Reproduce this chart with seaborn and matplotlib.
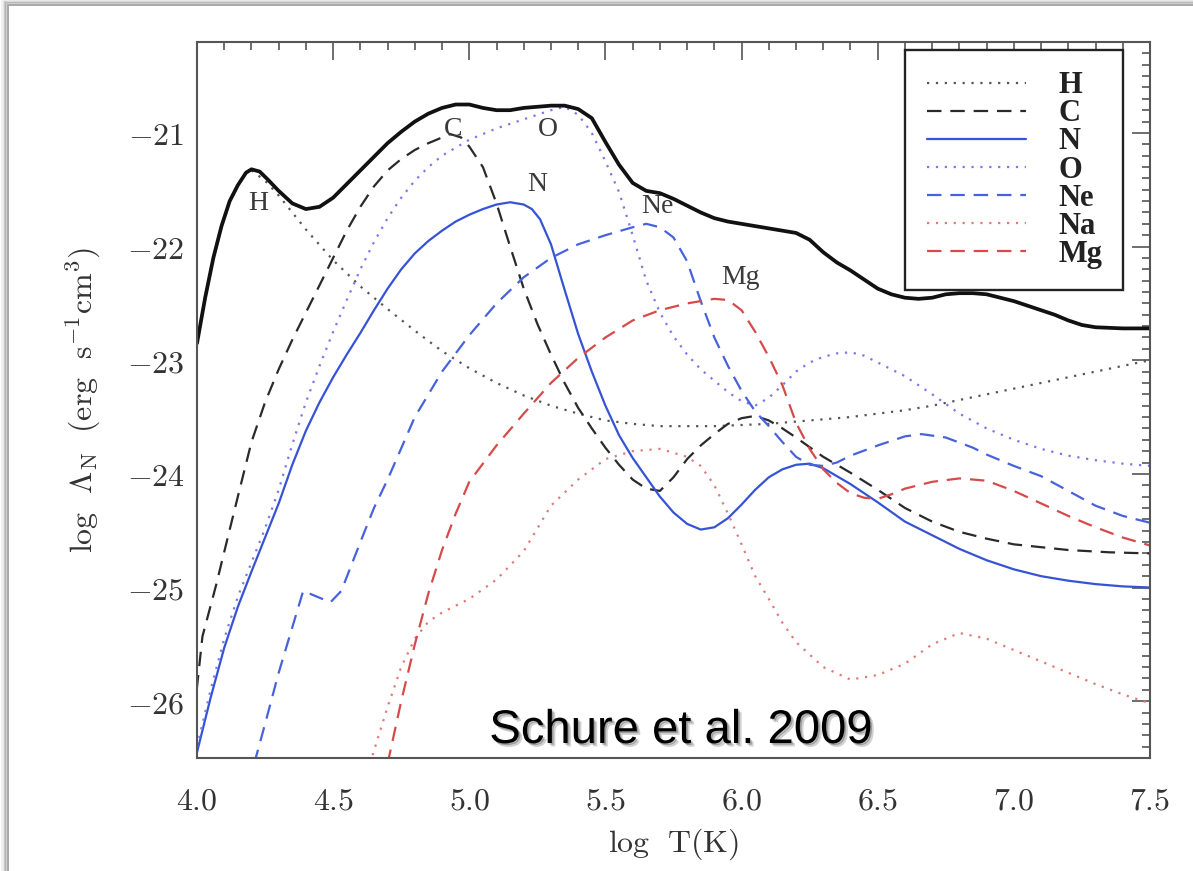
import numpy as np
import pandas as pd
import matplotlib
matplotlib.use("Agg")
import matplotlib.pyplot as plt
import matplotlib.patheffects as pe
from matplotlib.patches import Rectangle
from matplotlib.ticker import MultipleLocator, FixedLocator, FixedFormatter
import seaborn as sns

# ---------------------------------------------------------------------------
# Cooling rates per element, log Lambda_N (erg s^-1 cm^3) vs log T (K)
# ---------------------------------------------------------------------------
total_T = [4.0, 4.03, 4.06, 4.09, 4.12, 4.15, 4.18, 4.2, 4.23, 4.26, 4.3, 4.35,
           4.4, 4.45, 4.5, 4.55, 4.6, 4.65, 4.7, 4.75, 4.8, 4.85, 4.9, 4.95,
           5.0, 5.05, 5.1, 5.15, 5.2, 5.25, 5.3, 5.35, 5.4, 5.45, 5.5, 5.55,
           5.6, 5.65, 5.7, 5.75, 5.8, 5.85, 5.9, 5.95, 6.0, 6.05, 6.1, 6.15,
           6.2, 6.25, 6.3, 6.35, 6.4, 6.45, 6.5, 6.55, 6.6, 6.65, 6.7, 6.75,
           6.8, 6.85, 6.9, 6.95, 7.0, 7.05, 7.1, 7.15, 7.2, 7.25, 7.3, 7.4, 7.5]
total_L = [-22.85, -22.45, -22.10, -21.82, -21.60, -21.46, -21.35, -21.32, -21.34,
           -21.41, -21.51, -21.62, -21.67, -21.65, -21.57, -21.45, -21.33, -21.21,
           -21.09, -20.99, -20.90, -20.83, -20.78, -20.75, -20.75, -20.78, -20.80,
           -20.80, -20.78, -20.77, -20.76, -20.76, -20.79, -20.87, -21.08, -21.28,
           -21.44, -21.51, -21.53, -21.58, -21.64, -21.70, -21.75, -21.78, -21.80,
           -21.82, -21.84, -21.86, -21.88, -21.94, -22.05, -22.14, -22.21, -22.29,
           -22.37, -22.42, -22.45, -22.46, -22.45, -22.42, -22.41, -22.41, -22.42,
           -22.45, -22.48, -22.52, -22.56, -22.60, -22.65, -22.69, -22.71, -22.72,
           -22.72]

H_T = [4.2, 4.25, 4.3, 4.35, 4.4, 4.5, 4.6, 4.7, 4.8, 4.9, 5.0, 5.1, 5.2, 5.3,
       5.4, 5.5, 5.6, 5.7, 5.8, 5.9, 6.0, 6.1, 6.2, 6.3, 6.4, 6.5, 6.6, 6.7,
       6.8, 6.9, 7.0, 7.1, 7.2, 7.3, 7.4, 7.5]
H_L = [-21.33, -21.42, -21.55, -21.70, -21.85, -22.12, -22.35, -22.55, -22.74,
       -22.92, -23.07, -23.20, -23.31, -23.40, -23.47, -23.53, -23.56, -23.58,
       -23.58, -23.58, -23.57, -23.56, -23.54, -23.52, -23.50, -23.47, -23.44,
       -23.40, -23.35, -23.30, -23.25, -23.20, -23.15, -23.10, -23.05, -23.00]

C_T = [3.99, 4.02, 4.07, 4.115, 4.15, 4.2, 4.25, 4.3, 4.35, 4.4, 4.45, 4.5, 4.55,
       4.6, 4.65, 4.7, 4.75, 4.8, 4.85, 4.9, 4.93, 4.97, 5.0, 5.05, 5.1, 5.15,
       5.2, 5.25, 5.3, 5.35, 5.4, 5.45, 5.5, 5.55, 5.6, 5.65, 5.7, 5.75, 5.8,
       5.85, 5.9, 5.95, 6.0, 6.05, 6.1, 6.15, 6.2, 6.3, 6.4, 6.5, 6.6, 6.7, 6.8,
       6.9, 7.0, 7.2, 7.35, 7.5]
C_L = [-26.10, -25.43, -24.98, -24.54, -24.20, -23.72, -23.37, -23.08, -22.82,
       -22.58, -22.34, -22.10, -21.86, -21.65, -21.47, -21.33, -21.23, -21.15,
       -21.09, -21.04, -21.01, -21.04, -21.12, -21.30, -21.62, -22.00, -22.37,
       -22.68, -22.95, -23.20, -23.42, -23.60, -23.77, -23.92, -24.05, -24.13,
       -24.15, -24.03, -23.87, -23.75, -23.65, -23.56, -23.51, -23.49, -23.53,
       -23.60, -23.68, -23.85, -23.99, -24.14, -24.30, -24.42, -24.51, -24.57,
       -24.62, -24.67, -24.69, -24.70]

N_T = [4.0, 4.05, 4.1, 4.15, 4.2, 4.25, 4.3, 4.35, 4.4, 4.45, 4.5, 4.55, 4.6,
       4.65, 4.7, 4.75, 4.8, 4.85, 4.9, 4.95, 5.0, 5.05, 5.1, 5.15, 5.2, 5.23,
       5.26, 5.3, 5.35, 5.4, 5.45, 5.5, 5.55, 5.6, 5.65, 5.7, 5.75, 5.8, 5.85,
       5.9, 5.95, 6.0, 6.05, 6.1, 6.15, 6.2, 6.25, 6.3, 6.4, 6.5, 6.6, 6.7, 6.8,
       6.9, 7.0, 7.1, 7.2, 7.3, 7.4, 7.5]
N_L = [-26.45, -25.97, -25.53, -25.17, -24.86, -24.56, -24.26, -23.92, -23.62,
       -23.37, -23.15, -22.95, -22.76, -22.56, -22.37, -22.20, -22.06, -21.95,
       -21.86, -21.78, -21.72, -21.67, -21.63, -21.61, -21.63, -21.67, -21.76,
       -21.98, -22.38, -22.77, -23.10, -23.40, -23.66, -23.86, -24.03, -24.20,
       -24.34, -24.44, -24.49, -24.47, -24.39, -24.27, -24.14, -24.03, -23.96,
       -23.92, -23.91, -23.95, -24.09, -24.25, -24.42, -24.54, -24.66, -24.76,
       -24.84, -24.90, -24.94, -24.97, -24.99, -25.00]

O_T = [4.0, 4.05, 4.1, 4.15, 4.2, 4.25, 4.3, 4.35, 4.4, 4.45, 4.5, 4.55, 4.6,
       4.65, 4.7, 4.75, 4.8, 4.85, 4.9, 5.0, 5.1, 5.2, 5.3, 5.35, 5.4, 5.45,
       5.5, 5.55, 5.6, 5.65, 5.7, 5.75, 5.8, 5.85, 5.9, 5.95, 6.0, 6.05, 6.1,
       6.15, 6.2, 6.25, 6.3, 6.35, 6.4, 6.45, 6.5, 6.55, 6.6, 6.7, 6.8, 6.9,
       7.0, 7.1, 7.2, 7.3, 7.4, 7.5]
O_L = [-26.40, -25.90, -25.45, -25.08, -24.78, -24.48, -24.14, -23.74, -23.37,
       -23.05, -22.75, -22.47, -22.20, -21.96, -21.75, -21.57, -21.42, -21.30,
       -21.20, -21.06, -20.96, -20.88, -20.80, -20.77, -20.84, -21.00, -21.25,
       -21.52, -21.90, -22.30, -22.58, -22.79, -22.95, -23.08, -23.18, -23.28,
       -23.36, -23.40, -23.33, -23.22, -23.10, -23.02, -22.97, -22.94, -22.93,
       -22.96, -23.02, -23.08, -23.14, -23.30, -23.47, -23.60, -23.70, -23.78,
       -23.84, -23.88, -23.91, -23.93]

Ne_T = [4.21, 4.25, 4.3, 4.35, 4.39, 4.44, 4.49, 4.53, 4.6, 4.65, 4.7, 4.8, 4.9,
        5.0, 5.1, 5.2, 5.3, 5.4, 5.5, 5.6, 5.65, 5.7, 5.75, 5.8, 5.85, 5.9,
        5.95, 6.0, 6.05, 6.1, 6.15, 6.2, 6.25, 6.3, 6.35, 6.4, 6.5, 6.6, 6.66,
        6.75, 6.85, 6.9, 7.0, 7.1, 7.2, 7.3, 7.4, 7.5]
Ne_L = [-26.55, -26.20, -25.75, -25.35, -25.03, -25.08, -25.13, -25.03, -24.60,
        -24.30, -24.05, -23.50, -23.10, -22.78, -22.50, -22.27, -22.10, -21.98,
        -21.90, -21.83, -21.80, -21.83, -21.92, -22.13, -22.48, -22.80, -23.05,
        -23.27, -23.45, -23.58, -23.72, -23.85, -23.92, -23.93, -23.90, -23.84,
        -23.75, -23.67, -23.65, -23.68, -23.77, -23.83, -23.93, -24.02, -24.15,
        -24.28, -24.37, -24.43]

Na_T = [4.635, 4.7, 4.75, 4.8, 4.85, 4.9, 5.0, 5.1, 5.2, 5.3, 5.4, 5.5, 5.6,
        5.7, 5.8, 5.85, 5.9, 5.95, 6.0, 6.05, 6.1, 6.15, 6.2, 6.3, 6.4, 6.5,
        6.6, 6.7, 6.8, 6.9, 7.0, 7.1, 7.2, 7.3, 7.4, 7.5]
Na_L = [-26.55, -26.05, -25.70, -25.45, -25.30, -25.22, -25.10, -24.93, -24.68,
        -24.28, -24.05, -23.87, -23.80, -23.78, -23.85, -23.93, -24.10, -24.35,
        -24.62, -24.90, -25.10, -25.31, -25.48, -25.70, -25.81, -25.77, -25.67,
        -25.50, -25.40, -25.45, -25.55, -25.65, -25.75, -25.85, -25.94, -26.02]

Mg_T = [4.70, 4.75, 4.8, 4.85, 4.9, 4.95, 5.0, 5.1, 5.2, 5.3, 5.4, 5.5, 5.6,
        5.7, 5.8, 5.85, 5.9, 5.95, 6.0, 6.05, 6.1, 6.15, 6.2, 6.25, 6.3, 6.35,
        6.4, 6.45, 6.5, 6.55, 6.6, 6.7, 6.8, 6.9, 7.0, 7.1, 7.2, 7.3, 7.4, 7.5]
Mg_L = [-26.55, -26.00, -25.50, -25.05, -24.67, -24.35, -24.07, -23.75, -23.47,
        -23.20, -22.98, -22.80, -22.65, -22.56, -22.50, -22.48, -22.46, -22.47,
        -22.56, -22.75, -22.97, -23.22, -23.55, -23.78, -23.96, -24.08, -24.17,
        -24.21, -24.22, -24.18, -24.13, -24.07, -24.04, -24.06, -24.15, -24.26,
        -24.37, -24.47, -24.56, -24.63]

elements = ["H", "C", "N", "O", "Ne", "Na", "Mg"]
temps = [H_T, C_T, N_T, O_T, Ne_T, Na_T, Mg_T]
rates = [H_L, C_L, N_L, O_L, Ne_L, Na_L, Mg_L]

# curve annotations (element, log T, log Lambda)
tag_names = ["H", "C", "O", "N", "Ne", "Mg"]
tag_T = [4.225, 4.94, 5.29, 5.25, 5.69, 5.995]
tag_L = [-21.62, -20.97, -20.97, -21.45, -21.65, -22.27]

x_ticks = [4.0, 4.5, 5.0, 5.5, 6.0, 6.5, 7.0, 7.5]
y_ticks = [-26, -25, -24, -23, -22, -21]

# ---------------------------------------------------------------------------
sns.set_theme(style="white")
plt.rcParams["mathtext.fontset"] = "cm"
plt.rcParams["font.family"] = ["DejaVu Serif"]

DOT = (0, (1, 3))
DASH = (0, (6.5, 4))
styles = {
    "H":  dict(color="#555555", linestyle=DOT),
    "C":  dict(color="#2a2a2a", linestyle=DASH),
    "N":  dict(color="#3653d6", linestyle="-"),
    "O":  dict(color="#7a78ea", linestyle=DOT),
    "Ne": dict(color="#4762dc", linestyle=DASH),
    "Na": dict(color="#e07a7a", linestyle=DOT),
    "Mg": dict(color="#d64a4a", linestyle=DASH),
}

fig = plt.figure(figsize=(11.93, 8.71), dpi=100)
fig.patch.set_facecolor("white")

# page border with a soft shadow on the upper-left edge
W, Hpx = 1193.0, 871.0
for k, a in zip([6, 4.5, 3, 1.5], [0.05, 0.08, 0.12, 0.18]):
    fig.add_artist(Rectangle(((8 - k) / W, -0.1), 1.2, 1 - (5 - k) / Hpx + 0.1,
                             transform=fig.transFigure, fill=False,
                             ec=(0, 0, 0, a), lw=1.6, zorder=0))
fig.add_artist(Rectangle((8 / W, -0.1), 1.2, 1 - 5 / Hpx + 0.1,
                         transform=fig.transFigure, fill=False,
                         ec="#a8a8a8", lw=1.4, zorder=0))

ax = fig.add_axes([197 / W, 1 - 758 / Hpx, 953 / W, 716 / Hpx])
ax.set_facecolor("white")

handles = []
for name, t, lam in zip(elements, temps, rates):
    df = pd.DataFrame({"logT": t, "logL": lam})
    sns.lineplot(data=df, x="logT", y="logL", ax=ax, lw=1.6,
                 estimator=None, sort=False, **styles[name])
    handles.append(ax.lines[-1])

tot = pd.DataFrame({"logT": total_T, "logL": total_L})
sns.lineplot(data=tot, x="logT", y="logL", ax=ax, color="#111111", lw=2.7,
             estimator=None, sort=False)

for nm, tx, ly in zip(tag_names, tag_T, tag_L):
    ax.text(tx, ly, nm, ha="center", va="center", fontsize=20,
            family="Liberation Serif", color="#3a3a3a", zorder=5)

ax.set_xlim(4.0, 7.5)
ax.set_ylim(-26.5, -20.2)
ax.xaxis.set_major_locator(FixedLocator(x_ticks))
ax.xaxis.set_major_formatter(FixedFormatter([f"${v:.1f}$" for v in x_ticks]))
ax.yaxis.set_major_locator(FixedLocator(y_ticks))
ax.yaxis.set_major_formatter(FixedFormatter([f"$-{abs(v)}$" for v in y_ticks]))
ax.xaxis.set_minor_locator(MultipleLocator(0.1))
ax.yaxis.set_minor_locator(MultipleLocator(0.1))
ax.tick_params(which="both", direction="in", top=True, right=True,
               color="#555555", width=1.2)
ax.tick_params(which="major", length=13)
ax.tick_params(which="minor", length=6)
ax.tick_params(axis="x", which="major", labelsize=23, pad=20, labelcolor="#333333")
ax.tick_params(axis="y", which="major", labelsize=23, pad=9, labelcolor="#333333")
for sp in ax.spines.values():
    sp.set_color("#555555")
    sp.set_linewidth(1.5)

ax.set_xlabel(r"$\mathrm{log\ \ T(K)}$", fontsize=23, color="#333333")
ax.set_ylabel(r"$\mathrm{log}\ \ \Lambda_{\mathrm{N}}\ \ (\mathrm{erg\ \ s^{-1}cm^{3}})$",
              fontsize=23, color="#333333")
ax.xaxis.set_label_coords(0.5, -0.095)
ax.xaxis.label.set_va("top")
ax.yaxis.set_label_coords(-0.099, 0.5)

leg = ax.legend(handles, elements, loc="upper right",
                bbox_to_anchor=(0.972, 0.989), borderaxespad=0,
                frameon=True, fancybox=False, edgecolor="#222222",
                facecolor="white", framealpha=1,
                handlelength=3.25, handletextpad=1.05, labelspacing=-0.03,
                borderpad=0.7,
                prop=dict(family="Liberation Serif", weight="bold", size=22))
leg.get_frame().set_linewidth(1.7)
for txt in leg.get_texts():
    txt.set_color("#222222")

fig.text(681 / W, 1 - 743 / Hpx, "Schure et al. 2009", ha="center",
         va="baseline", fontsize=34, family="Liberation Sans", color="black",
         path_effects=[pe.SimplePatchShadow(offset=(2.5, -2.5), shadow_rgbFace="black", alpha=0.18),
                       pe.SimplePatchShadow(offset=(1.2, -1.2), shadow_rgbFace="black", alpha=0.25),
                       pe.Normal()])

fig.savefig("out.png", dpi=100, facecolor="white")
